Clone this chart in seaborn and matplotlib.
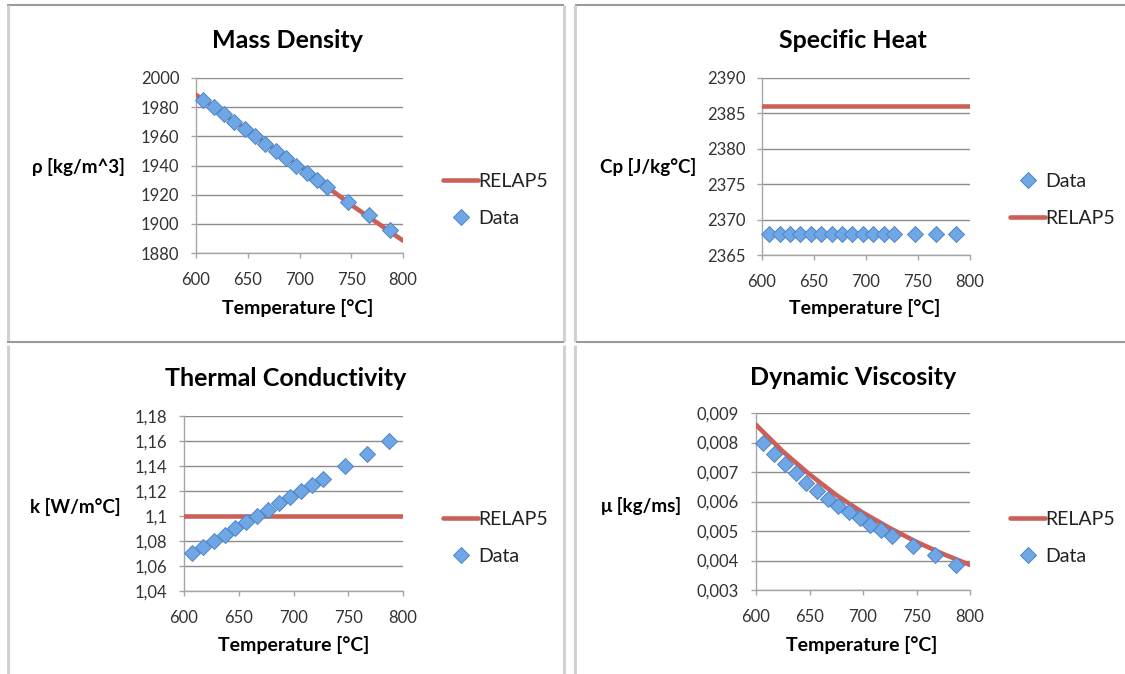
import numpy as np
import pandas as pd
import matplotlib
matplotlib.use("Agg")
import matplotlib.pyplot as plt
import seaborn as sns
from matplotlib.lines import Line2D
from matplotlib.ticker import MultipleLocator, FuncFormatter

# ---------------- data ----------------
temp_data = [607, 617, 627, 637, 647, 657, 667, 677, 687, 697, 707, 717, 727, 747, 767, 787]

rho_data = [1985, 1980, 1975, 1970, 1965, 1960, 1955, 1950, 1945, 1940, 1935, 1930, 1925, 1915, 1906, 1896]
rho_line_t = [600, 650, 700, 750, 800]
rho_line = [1988.5, 1964, 1939.5, 1913, 1888.5]

cp_data = [2368] * 16
cp_line_t = [600, 800]
cp_line = [2386, 2386]

k_data = [1.070, 1.075, 1.080, 1.085, 1.090, 1.095, 1.100, 1.105, 1.110, 1.115, 1.120, 1.125, 1.130, 1.140, 1.150, 1.160]
k_line_t = [600, 800]
k_line = [1.10, 1.10]

mu_data = [0.00800, 0.00760, 0.00728, 0.00695, 0.00663, 0.00637, 0.00610, 0.00585, 0.00563, 0.00543,
           0.00522, 0.00502, 0.00482, 0.00448, 0.00417, 0.00385]
mu_line_t = [600, 625, 650, 675, 700, 725, 750, 775, 800]
mu_line = [0.00860, 0.00770, 0.00692, 0.00622, 0.00562, 0.00510, 0.00463, 0.00422, 0.00385]

titles = ["Mass Density", "Specific Heat", "Thermal Conductivity", "Dynamic Viscosity"]
ylabels = ["ρ [kg/m^3]", "Cp [J/kg°C]", "k [W/m°C]", "μ [kg/ms]"]
xlabel = "Temperature [°C]"

# ---------------- style ----------------
sns.set_theme(style="white")
plt.rcParams["font.family"] = ["Lato", "DejaVu Sans"]

W, H = 1125, 674
fig = plt.figure(figsize=(W / 100, H / 100), dpi=100)

RED = "#CD5F59"
BLUE_FACE = "#6EA6E6"
BLUE_EDGE = "#4F86C6"
GRID = "#8C8C8C"
TICKC = "#333333"


def px_axes(left, top, right, bottom):
    return fig.add_axes([left / W, 1 - bottom / H, (right - left) / W, (bottom - top) / H])


def comma_fmt(v, pos):
    s = "{:g}".format(round(v, 6))
    return s.replace(".", ",")


panels = [
    dict(box=(196, 78, 403, 253), ylim=(1880, 2000), ystep=20, line=(rho_line_t, rho_line), data=rho_data,
         comma=False, title_xy=(287, 40), ylab_xy=(78, 167), xlab_xy=(298, 308),
         leg_xy=(443, 200), order=["RELAP5", "Data"]),
    dict(box=(762, 78, 970, 255), ylim=(2365, 2390), ystep=5, line=(cp_line_t, cp_line), data=cp_data,
         comma=False, title_xy=(853, 40), ylab_xy=(648, 167), xlab_xy=(865, 308),
         leg_xy=(1010, 200), order=["Data", "RELAP5"]),
    dict(box=(184, 416, 403, 591), ylim=(1.04, 1.18), ystep=0.02, line=(k_line_t, k_line), data=k_data,
         comma=True, title_xy=(286, 379), ylab_xy=(75, 507), xlab_xy=(294, 645),
         leg_xy=(443, 538), order=["RELAP5", "Data"]),
    dict(box=(756, 413, 970, 590), ylim=(0.003, 0.009), ystep=0.001, line=(mu_line_t, mu_line), data=mu_data,
         comma=True, title_xy=(853, 377), ylab_xy=(641, 506), xlab_xy=(862, 645),
         leg_xy=(1010, 538), order=["RELAP5", "Data"]),
]

for i, p in enumerate(panels):
    ax = px_axes(*p["box"])
    df_line = pd.DataFrame({"T": p["line"][0], "v": p["line"][1]})
    df_data = pd.DataFrame({"T": temp_data, "v": p["data"]})
    sns.lineplot(data=df_line, x="T", y="v", ax=ax, color=RED, linewidth=3.3, zorder=3,
                 clip_on=True)
    sns.scatterplot(data=df_data, x="T", y="v", ax=ax, marker="D", s=66, color=BLUE_FACE,
                    edgecolor=BLUE_EDGE, linewidth=0.7, zorder=4, clip_on=False)
    ax.set_xlim(600, 800)
    ax.set_ylim(*p["ylim"])
    ax.xaxis.set_major_locator(MultipleLocator(50))
    ax.yaxis.set_major_locator(MultipleLocator(p["ystep"]))
    if p["comma"]:
        ax.yaxis.set_major_formatter(FuncFormatter(comma_fmt))
    ax.set_xlabel("")
    ax.set_ylabel("")
    ax.grid(axis="y", color=GRID, linewidth=1.0)
    ax.grid(axis="x", visible=False)
    ax.set_axisbelow(True)
    for s in ["top", "right"]:
        ax.spines[s].set_visible(False)
    for s in ["left", "bottom"]:
        ax.spines[s].set_color("#A6A6A6")
        ax.spines[s].set_linewidth(1.0)
    ax.tick_params(axis="both", which="major", direction="out", length=3.6, width=1.0,
                   color="#A6A6A6", labelsize=12, labelcolor=TICKC,
                   bottom=True, left=True)
    ax.tick_params(axis="y", pad=8.5)
    ax.tick_params(axis="x", pad=10)

    fig.text(p["title_xy"][0] / W, 1 - p["title_xy"][1] / H, titles[i], ha="center", va="center",
             fontsize=18, fontweight="bold", color="black")
    fig.text(p["ylab_xy"][0] / W, 1 - p["ylab_xy"][1] / H, ylabels[i], ha="center", va="center",
             fontsize=13.5, fontweight="bold", color="black")
    fig.text(p["xlab_xy"][0] / W, 1 - p["xlab_xy"][1] / H, xlabel, ha="center", va="center",
             fontsize=14, fontweight="bold", color="black")

    handles = {
        "RELAP5": Line2D([], [], color=RED, linewidth=3.3),
        "Data": Line2D([], [], linestyle="none", marker="D", markersize=7.8,
                       markerfacecolor=BLUE_FACE, markeredgecolor=BLUE_EDGE, markeredgewidth=0.7),
    }
    hs = [handles[k] for k in p["order"]]
    leg = fig.legend(hs, p["order"], loc="center left",
                     bbox_to_anchor=(p["leg_xy"][0] / W, 1 - p["leg_xy"][1] / H),
                     frameon=False, fontsize=14, handlelength=1.8, handletextpad=0.0,
                     labelspacing=1.05, borderpad=0, borderaxespad=0)
    for t in leg.get_texts():
        t.set_color("#222222")

# ---------------- panel frames ----------------
def fline(x0, y0, x1, y1, color, lw):
    fig.add_artist(Line2D([x0 / W, x1 / W], [1 - y0 / H, 1 - y1 / H], color=color, linewidth=lw,
                          transform=fig.transFigure, solid_capstyle="butt"))

LIGHT = "#D2D2D2"
DARK = "#9A9A9A"
# top-left
fline(7, 5, 564, 5, DARK, 1.5)
fline(7.5, 5, 7.5, 342, LIGHT, 2.2)
fline(564, 5, 564, 342, LIGHT, 2.2)
fline(7, 342, 564, 342, DARK, 1.5)
# top-right
fline(575, 5, 1125, 5, DARK, 1.5)
fline(575, 5, 575, 342, LIGHT, 2.2)
fline(576, 342, 1125, 342, DARK, 1.5)
# bottom-left
fline(7.5, 345, 7.5, 674, LIGHT, 2.2)
fline(564, 345, 564, 674, LIGHT, 2.2)
# bottom-right
fline(575, 345, 575, 674, LIGHT, 2.2)

fig.savefig("out.png", dpi=100)
